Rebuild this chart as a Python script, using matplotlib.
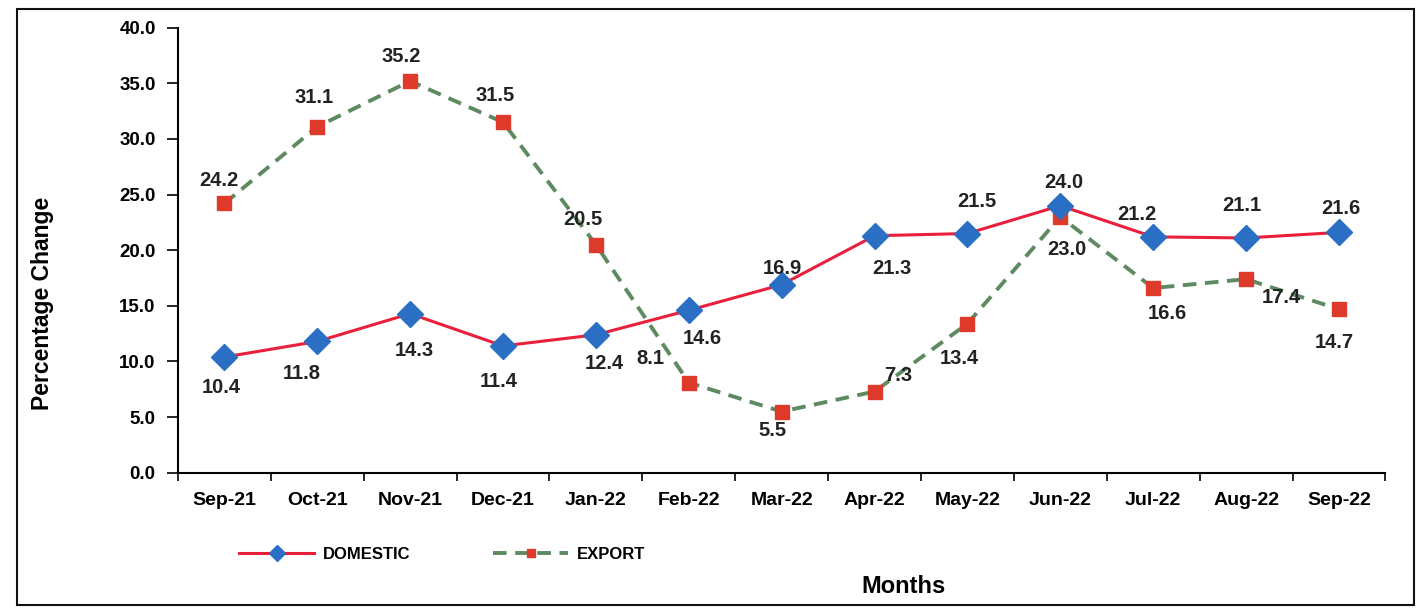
import numpy as np
import matplotlib.pyplot as plt
from matplotlib.patches import Rectangle

plt.rcParams['font.family'] = ['Liberation Sans', 'DejaVu Sans']
plt.rcParams['font.weight'] = 'bold'

# データ
months = ["Sep-21", "Oct-21", "Nov-21", "Dec-21", "Jan-22", "Feb-22", "Mar-22",
          "Apr-22", "May-22", "Jun-22", "Jul-22", "Aug-22", "Sep-22"]
domestic = [10.4, 11.8, 14.3, 11.4, 12.4, 14.6, 16.9, 21.3, 21.5, 24.0, 21.2, 21.1, 21.6]
export = [24.2, 31.1, 35.2, 31.5, 20.5, 8.1, 5.5, 7.3, 13.4, 23.0, 16.6, 17.4, 14.7]

# ラベル位置 (pixel offset)
dom_off = [(-3, -30), (-16, -32), (4, -37), (-4, -36), (8, -29), (14, -28), (1, 16),
           (17, -33), (9, 32), (4, 23), (-16, 22), (-4, 32), (2, 24)]
exp_off = [(-6, 23), (-3, 29), (-9, 25), (-8, 27), (-13, 25), (-38, 24), (-9, -19),
           (24, 16), (-8, -35), (7, -33), (14, -25), (35, -18), (-5, -33)]

fig = plt.figure(figsize=(14.18, 6.14), dpi=100)
ax = fig.add_axes([0.1255, 0.23, 0.8515, 0.725])
x = np.arange(len(months))

ax.plot(x, domestic, color="#e8203c", lw=2.2, marker="D", ms=13,
        mfc="#2a6fc4", mec="#2a6fc4", label="DOMESTIC", zorder=3)
ax.plot(x, export, color="#5e8a62", lw=2.8, ls=(0, (3.5, 2.2)), marker="s", ms=10,
        mfc="#dd3a2c", mec="#dd3a2c", label="EXPORT", zorder=2)

for i in range(len(months)):
    ax.annotate(f"{domestic[i]:.1f}", (x[i], domestic[i]), xytext=dom_off[i],
                textcoords="offset pixels", ha="center", va="center",
                fontsize=14.5, fontweight="bold", color="#222222")
    ax.annotate(f"{export[i]:.1f}", (x[i], export[i]), xytext=exp_off[i],
                textcoords="offset pixels", ha="center", va="center",
                fontsize=14.5, fontweight="bold", color="#222222")

# 軸
ax.set_xlim(-0.47, len(months) - 0.53)
ax.set_ylim(0, 40)
ax.set_yticks(np.arange(0, 45, 5))
ax.set_yticklabels([f"{v:.1f}" for v in np.arange(0, 45, 5)], fontsize=13.5, fontweight="bold")
ax.set_xticks(np.arange(-0.5, len(months)), labels=[])
ax.set_xticks(x, labels=months, minor=True)
ax.tick_params(axis="x", which="minor", length=0, labelsize=14, pad=14)
ax.tick_params(axis="x", which="major", length=6, width=1.2)
ax.tick_params(axis="y", length=8, width=1.2, pad=8)
for lbl in ax.get_xticklabels(minor=True):
    lbl.set_fontweight("bold")
for s in ["top", "right"]:
    ax.spines[s].set_visible(False)
for s in ["left", "bottom"]:
    ax.spines[s].set_linewidth(1.5)

ax.set_ylabel("Percentage Change", fontsize=16.5, fontweight="bold")
ax.yaxis.set_label_coords(-0.103, 0.38)
fig.text(0.637, 0.045, "Months", ha="center", va="center", fontsize=17, fontweight="bold")

leg = fig.legend(loc="center left", bbox_to_anchor=(0.158, 0.097), ncol=2, frameon=False,
                 prop={"size": 12, "weight": "bold"}, handlelength=4.5, columnspacing=5.0,
                 handletextpad=0.5, markerscale=0.6)

# 外枠
fig.patches.append(Rectangle((0.012, 0.015), 0.985, 0.97, transform=fig.transFigure,
                             fill=False, lw=1.5, ec="#111111"))

fig.savefig("out.png", dpi=100)
